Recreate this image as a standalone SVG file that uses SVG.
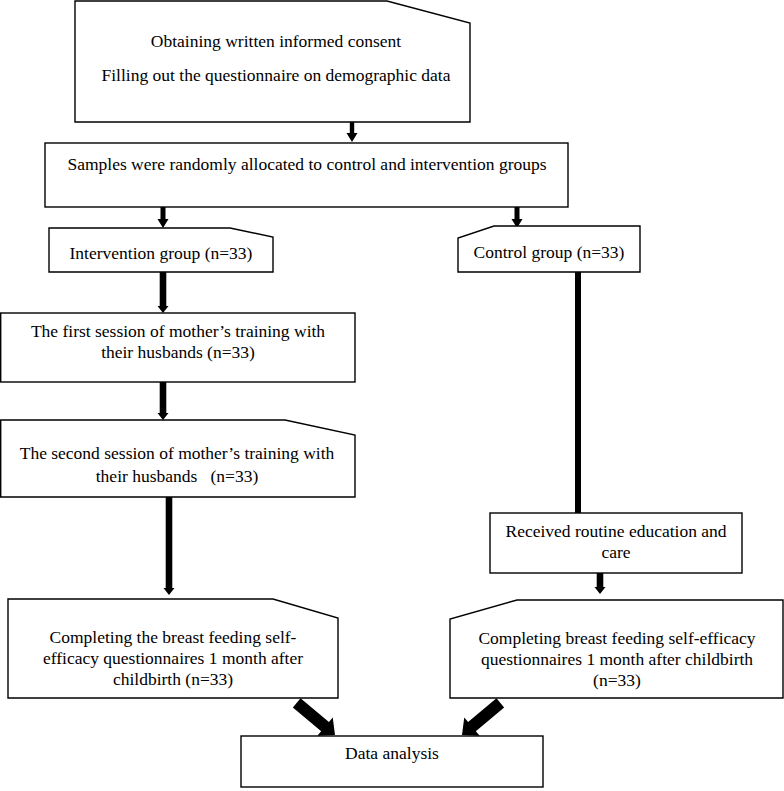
<svg xmlns="http://www.w3.org/2000/svg" width="784" height="791" viewBox="0 0 784 791">
<style>
.box{fill:#fff;stroke:#000;stroke-width:1.4}
.t{font-family:"Liberation Serif","Times New Roman",serif;font-size:17.5px;fill:#000;text-anchor:middle}
.ar{fill:#000;stroke:none}
</style>
<rect x="0" y="0" width="784" height="791" fill="#fff"/>
<g id="connectors">
<polygon class="ar" points="349.8,118 354.2,118 354.2,133 357.5,133 352,142 346.5,133 349.8,133"/>
<polygon class="ar" points="160.5,207 165.5,207 165.5,219 168.5,219 163,228 157.5,219 160.5,219"/>
<polygon class="ar" points="514.5,207 519.5,207 519.5,219 522.5,219 517,228 511.5,219 514.5,219"/>
<polygon class="ar" points="159.7,272 166.3,272 166.3,306 168.5,306 163,313 157.5,306 159.7,306"/>
<polygon class="ar" points="159.7,382 166.3,382 166.3,413 168.5,413 163,420 157.5,413 159.7,413"/>
<polygon class="ar" points="165.7,497 172.3,497 172.3,588 174.5,588 169,595 163.5,588 165.7,588"/>
<rect class="ar" x="575" y="272" width="6" height="241"/>
<polygon class="ar" points="596.7,573 603.3,573 603.3,587 605.5,587 600,594 594.5,587 596.7,587"/>
<polygon class="ar" transform="translate(335,735) rotate(40)" points="-50,-6 -13,-6 -13,-12 0,0 -13,12 -13,6 -50,6"/>
<polygon class="ar" transform="translate(462,735) rotate(140)" points="-50,-6 -13,-6 -13,-12 0,0 -13,12 -13,6 -50,6"/>
</g>
<g id="consent">
<polygon class="box" points="75,1 387,1 470,23 470,122 75,122"/>
<text class="t" x="276" y="47">Obtaining written informed consent</text>
<text class="t" x="276" y="81">Filling out the questionnaire on demographic data</text>
</g>
<g id="allocation">
<rect class="box" x="45" y="143" width="523" height="64"/>
<text class="t" x="307" y="170">Samples were randomly allocated to control and intervention groups</text>
</g>
<g id="intervention">
<polygon class="box" points="49,228 230,228 273,237 273,272 49,272"/>
<text class="t" x="161" y="259">Intervention group (n=33)</text>
</g>
<g id="control">
<polygon class="box" points="494,226 640,226 640,272 458,272 458,238"/>
<text class="t" x="549" y="258">Control group (n=33)</text>
</g>
<g id="session1">
<rect class="box" x="0.7" y="313" width="354.3" height="69"/>
<text class="t" x="178" y="337">The first session of mother’s training with</text>
<text class="t" x="178" y="358">their husbands (n=33)</text>
</g>
<g id="session2">
<polygon class="box" points="0.7,420 285,420 355,435 355,497 0.7,497"/>
<text class="t" x="177" y="459">The second session of mother’s training with</text>
<text class="t" x="177" y="482">their husbands&#160;&#160; (n=33)</text>
</g>
<g id="routine">
<rect class="box" x="490" y="513" width="252" height="60"/>
<text class="t" x="616" y="537">Received routine education and</text>
<text class="t" x="616" y="558">care</text>
</g>
<g id="complete-intervention">
<polygon class="box" points="8,599 273,599 338,618 338,698 8,698"/>
<text class="t" x="173" y="643">Completing the breast feeding self-</text>
<text class="t" x="173" y="664">efficacy questionnaires 1 month after</text>
<text class="t" x="173" y="685">childbirth (n=33)</text>
</g>
<g id="complete-control">
<polygon class="box" points="517,600 783,600 783,698 450,698 450,619"/>
<text class="t" x="617" y="644">Completing breast feeding self-efficacy</text>
<text class="t" x="617" y="665">questionnaires 1 month after childbirth</text>
<text class="t" x="617" y="686">(n=33)</text>
</g>
<g id="analysis">
<rect class="box" x="241" y="736" width="302" height="51"/>
<text class="t" x="392" y="759">Data analysis</text>
</g>
</svg>
